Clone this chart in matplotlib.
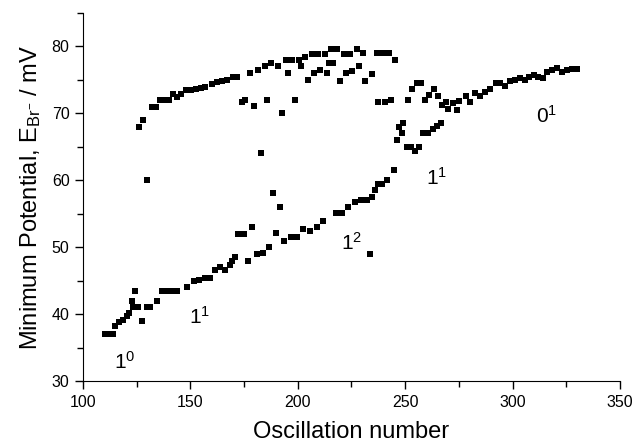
import numpy as np
import matplotlib
matplotlib.use('Agg')
import matplotlib.pyplot as plt
from matplotlib.ticker import MultipleLocator

plt.rcParams['font.family'] = ['Liberation Sans', 'DejaVu Sans']
plt.rcParams['mathtext.fontset'] = 'custom'
plt.rcParams['mathtext.rm'] = 'Liberation Sans'
plt.rcParams['mathtext.it'] = 'Liberation Sans:italic'

# upper branch (start, plateau and top rows)
upper_x = [126.0, 128.1, 132.0, 134.1, 135.9, 138.2, 140.2, 141.8, 144.0, 145.7,
           148.0, 150.2, 152.7, 154.9, 157.0, 160.0, 162.3, 164.6, 167.0, 170.0,
           171.9, 177.8, 181.5, 184.6, 187.6, 190.7, 194.6, 197.3, 200.5, 203.5,
           206.7, 209.6, 212.6, 215.6, 218.4, 221.5, 224.5, 227.5, 230.5, 236.8,
           239.6, 242.6, 245.3]
upper_y = [67.9, 69.0, 70.9, 70.9, 71.9, 71.9, 71.9, 72.9, 72.4, 72.9,
           73.45, 73.5, 73.6, 73.8, 73.9, 74.4, 74.6, 74.8, 75.0, 75.4,
           75.4, 76.0, 76.5, 77.0, 77.5, 77.0, 78.0, 78.0, 78.0, 78.4,
           78.9, 78.9, 78.9, 79.5, 79.5, 78.9, 78.9, 79.5, 79.0, 79.0,
           79.0, 79.0, 78.0]

# scattered points below the top row
mid_x = [195.6, 201.5, 204.7, 207.6, 210.5, 213.6, 214.4, 216.6, 219.5, 222.5,
         225.4, 228.4, 231.5, 234.4, 237.2, 173.9, 175.5, 179.7, 185.7, 192.6,
         198.6, 182.8, 130.0, 255.4, 257.3, 253.3, 263.4, 261.2, 265.4, 259.2,
         251.5, 240.6, 243.4]
mid_y = [76.0, 77.0, 75.0, 76.0, 76.5, 76.0, 77.5, 77.5, 74.8, 76.0,
         76.3, 77.0, 74.8, 75.8, 71.6, 71.6, 72.0, 71.0, 72.0, 70.1,
         72.0, 64.0, 60.0, 74.5, 74.5, 73.6, 73.6, 72.7, 72.6, 72.0,
         72.0, 71.6, 72.0]

# dip around 250-265
dip_x = [249.2, 247.3, 248.4, 246.4, 250.7, 252.6, 254.6, 256.6, 258.5, 260.8,
         262.8, 264.7, 266.6]
dip_y = [68.6, 68.0, 67.0, 66.0, 65.0, 65.0, 64.4, 65.0, 67.0, 67.1,
         67.6, 68.1, 68.6]

# 0^1 branch
right_x = [267.0, 269.0, 270.1, 272.4, 274.3, 275.2, 278.3, 280.2, 282.5, 284.8,
           287.2, 289.5, 292.3, 294.2, 296.5, 298.8, 301.1, 303.5, 305.8, 307.8,
           310.0, 312.0, 314.3, 315.9, 318.2, 320.5, 322.9, 325.2, 327.5, 329.8]
right_y = [71.2, 71.7, 70.7, 71.5, 70.5, 71.8, 72.6, 71.7, 73.0, 72.6,
           73.2, 73.6, 74.5, 74.5, 74.0, 74.8, 75.0, 75.2, 74.9, 75.4,
           75.7, 75.4, 75.3, 76.2, 76.4, 76.7, 76.2, 76.4, 76.6, 76.6]

# lower branch
lower_x = [110.3, 112.3, 114.2, 115.0, 117.0, 118.8, 120.4, 121.6, 122.7, 124.3,
           123.5, 125.8, 127.4, 129.7, 131.3, 134.7, 136.7, 139.0, 141.4, 143.7,
           148.3, 151.7, 154.2, 156.9, 159.2, 161.5, 163.8, 166.2, 168.5, 170.8,
           169.3, 172.4, 175.0, 178.9, 188.7, 191.8, 189.9, 176.7, 180.9, 184.0,
           186.8, 193.8, 196.7, 199.8, 202.6, 205.7, 208.8, 211.6, 217.8, 220.6,
           223.5, 226.7, 229.5, 232.4, 234.4, 236.0, 237.5, 239.1, 241.7, 244.8,
           233.7]
lower_y = [37.05, 37.05, 37.05, 38.2, 38.9, 39.2, 39.7, 40.2, 42.0, 43.5,
           41.1, 41.1, 39.0, 41.1, 41.1, 42.0, 43.5, 43.5, 43.5, 43.5,
           44.05, 45.0, 45.1, 45.5, 45.5, 46.6, 47.1, 46.6, 47.4, 48.6,
           47.9, 52.0, 52.0, 53.1, 58.1, 56.0, 52.1, 48.0, 49.0, 49.2,
           50.0, 51.0, 51.5, 51.5, 52.7, 52.5, 53.0, 54.0, 55.1, 55.1,
           56.0, 56.8, 57.1, 57.1, 57.5, 58.5, 59.5, 59.5, 60.0, 61.6,
           49.0]

labels = [('1', '0'), ('1', '1'), ('1', '2'), ('1', '1'), ('0', '1')]
label_x = [119.6, 154.5, 225.1, 264.7, 315.9]
label_y = [33.0, 39.7, 50.6, 60.3, 69.6]

fig = plt.figure(figsize=(6.32, 4.45), dpi=100)
ax = fig.add_axes([0.131, 0.1427, 0.85, 0.829])

for xs, ys in [(upper_x, upper_y), (mid_x, mid_y), (dip_x, dip_y),
               (right_x, right_y), (lower_x, lower_y)]:
    ax.plot(xs, ys, 's', color='black', markersize=4.2, markeredgewidth=0)

for (b, s), lx, ly in zip(labels, label_x, label_y):
    ax.text(lx, ly, r'%s$^{%s}$' % (b, s), fontsize=15, ha='center', va='center')

ax.set_xlim(100, 350)
ax.set_ylim(30, 85)
ax.xaxis.set_major_locator(MultipleLocator(50))
ax.xaxis.set_minor_locator(MultipleLocator(25))
ax.yaxis.set_minor_locator(MultipleLocator(5))
ax.set_yticks([30, 40, 50, 60, 70, 80])
ax.tick_params(which='both', direction='out', width=1)
ax.tick_params(which='major', length=6, labelsize=11.5)
ax.tick_params(which='minor', length=4)
for side in ['top', 'right']:
    ax.spines[side].set_visible(False)

ax.set_xlabel('Oscillation number', fontsize=17, labelpad=8)
ax.set_ylabel(r'Minimum Potential, E$_{\mathrm{Br}^{-}}$ / mV', fontsize=17, labelpad=6)

fig.savefig('out.png', dpi=100)
